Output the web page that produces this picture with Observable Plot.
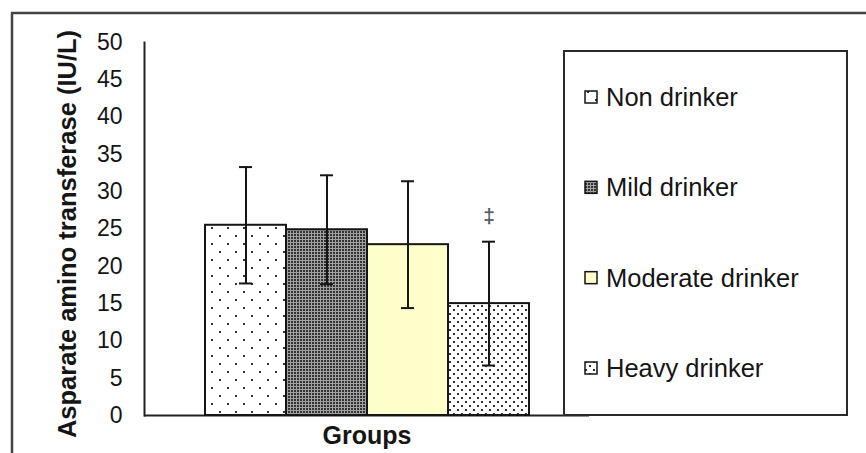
<!DOCTYPE html>
<html>
<head>
<meta charset="utf-8">
<script src="https://cdn.jsdelivr.net/npm/d3@7"></script>
<script src="https://cdn.jsdelivr.net/npm/@observablehq/plot@0.6"></script>
<style>
  body { margin: 0; background: #fff; }
  #chart { width: 866px; height: 453px; }
</style>
</head>
<body>
<div id="chart"></div>
<script>
// Serum AST by drinking group: mean and standard deviation (IU/L)
const groups = ["Non drinker", "Mild drinker", "Moderate drinker", "Heavy drinker"];
const means = [25.5, 24.9, 22.9, 15.0];
const sds = [7.8, 7.3, 8.5, 8.3];
const yTicks = [0, 5, 10, 15, 20, 25, 30, 35, 40, 45, 50];
const significantGroups = ["Heavy drinker"];
const significanceMark = "‡";
const yTitle = "Asparate amino transferase (IU/L)";
const xTitle = "Groups";

// Fill for each group: hatch patterns defined in <defs> below, plus a pale yellow
const groupFills = ["url(#dots-sparse)", "url(#checker)", "#ffffcc", "url(#dots-dense)"];

const rows = groups.map((g, i) => ({
  group: g,
  mean: means[i],
  lo: means[i] - sds[i],
  hi: means[i] + sds[i]
}));

const ink = "#151515";
const font = "'Liberation Sans', Arial, sans-serif";

const plot = Plot.plot({
  width: 866,
  height: 453,
  marginLeft: 144,
  marginRight: 277,
  marginTop: 42,
  marginBottom: 38,
  style: { fontFamily: font, background: "white", color: ink },
  x: { domain: groups, range: [204, 529], padding: 0, axis: null },
  y: { domain: [0, 50] },
  color: { domain: groups, range: groupFills },
  marks: [
    Plot.ruleY([0], { stroke: "#222", strokeWidth: 2 }),
    Plot.frame({ anchor: "left", stroke: "#222", strokeWidth: 2 }),
    Plot.barY(rows, { x: "group", y: "mean", fill: "group", stroke: ink, strokeWidth: 2 }),
    Plot.ruleX(rows, { x: "group", y1: "lo", y2: "hi", stroke: ink, strokeWidth: 2 }),
    Plot.tickY(rows, { x: "group", y: "hi", insetLeft: 34, insetRight: 34, stroke: ink, strokeWidth: 2 }),
    Plot.tickY(rows, { x: "group", y: "lo", insetLeft: 34, insetRight: 34, stroke: ink, strokeWidth: 2 }),
    Plot.text(rows.filter(d => significantGroups.includes(d.group)), {
      x: "group", y: "hi", text: () => significanceMark, dy: -25,
      fontSize: 21, fontWeight: "bold", fill: "#5a5f6a"
    }),
    Plot.axisY({
      ticks: yTicks, tickSize: 0, tickPadding: 22, fontSize: 23, label: null, fill: ink
    }),
    Plot.text([yTitle], {
      text: d => d, frameAnchor: "left", dx: -77, dy: 5, rotate: -90,
      textAnchor: "middle", lineAnchor: "middle",
      fontSize: 25.5, fontWeight: "bold", fill: ink
    }),
    Plot.text([xTitle], {
      text: d => d, frameAnchor: "bottom", dy: 20,
      textAnchor: "middle", lineAnchor: "middle",
      fontSize: 25, fontWeight: "bold", fill: ink
    })
  ]
});

const svg = d3.select(plot);

// Hatch patterns used by the bars and legend swatches
const defs = svg.insert("defs", ":first-child");
const sparse = defs.append("pattern").attr("id", "dots-sparse")
  .attr("patternUnits", "userSpaceOnUse").attr("width", 16).attr("height", 16);
sparse.append("rect").attr("width", 16).attr("height", 16).attr("fill", "#fff");
sparse.append("rect").attr("x", 3).attr("y", 3).attr("width", 2).attr("height", 2).attr("fill", "#333");
sparse.append("rect").attr("x", 11).attr("y", 11).attr("width", 2).attr("height", 2).attr("fill", "#333");

const checker = defs.append("pattern").attr("id", "checker")
  .attr("patternUnits", "userSpaceOnUse").attr("width", 3).attr("height", 3);
checker.append("rect").attr("width", 3).attr("height", 3).attr("fill", "#a2a2a2");
checker.append("rect").attr("width", 2).attr("height", 2).attr("fill", "#333");

const dense = defs.append("pattern").attr("id", "dots-dense")
  .attr("patternUnits", "userSpaceOnUse").attr("width", 8).attr("height", 8);
dense.append("rect").attr("width", 8).attr("height", 8).attr("fill", "#fff");
dense.append("rect").attr("x", 1).attr("y", 1).attr("width", 2).attr("height", 2).attr("fill", "#333");
dense.append("rect").attr("x", 5).attr("y", 5).attr("width", 2).attr("height", 2).attr("fill", "#333");

// Legend box on the right of the plot
const legend = svg.append("g").attr("font-family", font).attr("text-anchor", "start");
legend.append("rect")
  .attr("x", 564).attr("y", 51).attr("width", 283).attr("height", 364)
  .attr("fill", "#fff").attr("stroke", "#2a2a2a").attr("stroke-width", 2);
const legendY = d3.scalePoint().domain(groups).range([97, 368]);
groups.forEach((g, i) => {
  const cy = legendY(g);
  legend.append("rect")
    .attr("x", 585).attr("y", cy - 6).attr("width", 12).attr("height", 12)
    .attr("fill", groupFills[i]).attr("stroke", ink).attr("stroke-width", 1.5);
  legend.append("text")
    .attr("x", 606).attr("y", cy).attr("dy", "0.35em")
    .attr("text-anchor", "start")
    .attr("font-size", 25.5).attr("fill", ink).text(g);
});

// Outer border of the figure panel
svg.append("path")
  .attr("d", "M12,453V13H866")
  .attr("fill", "none").attr("stroke", "#444").attr("stroke-width", 2.5);

document.getElementById("chart").append(plot);
</script>
</body>
</html>
